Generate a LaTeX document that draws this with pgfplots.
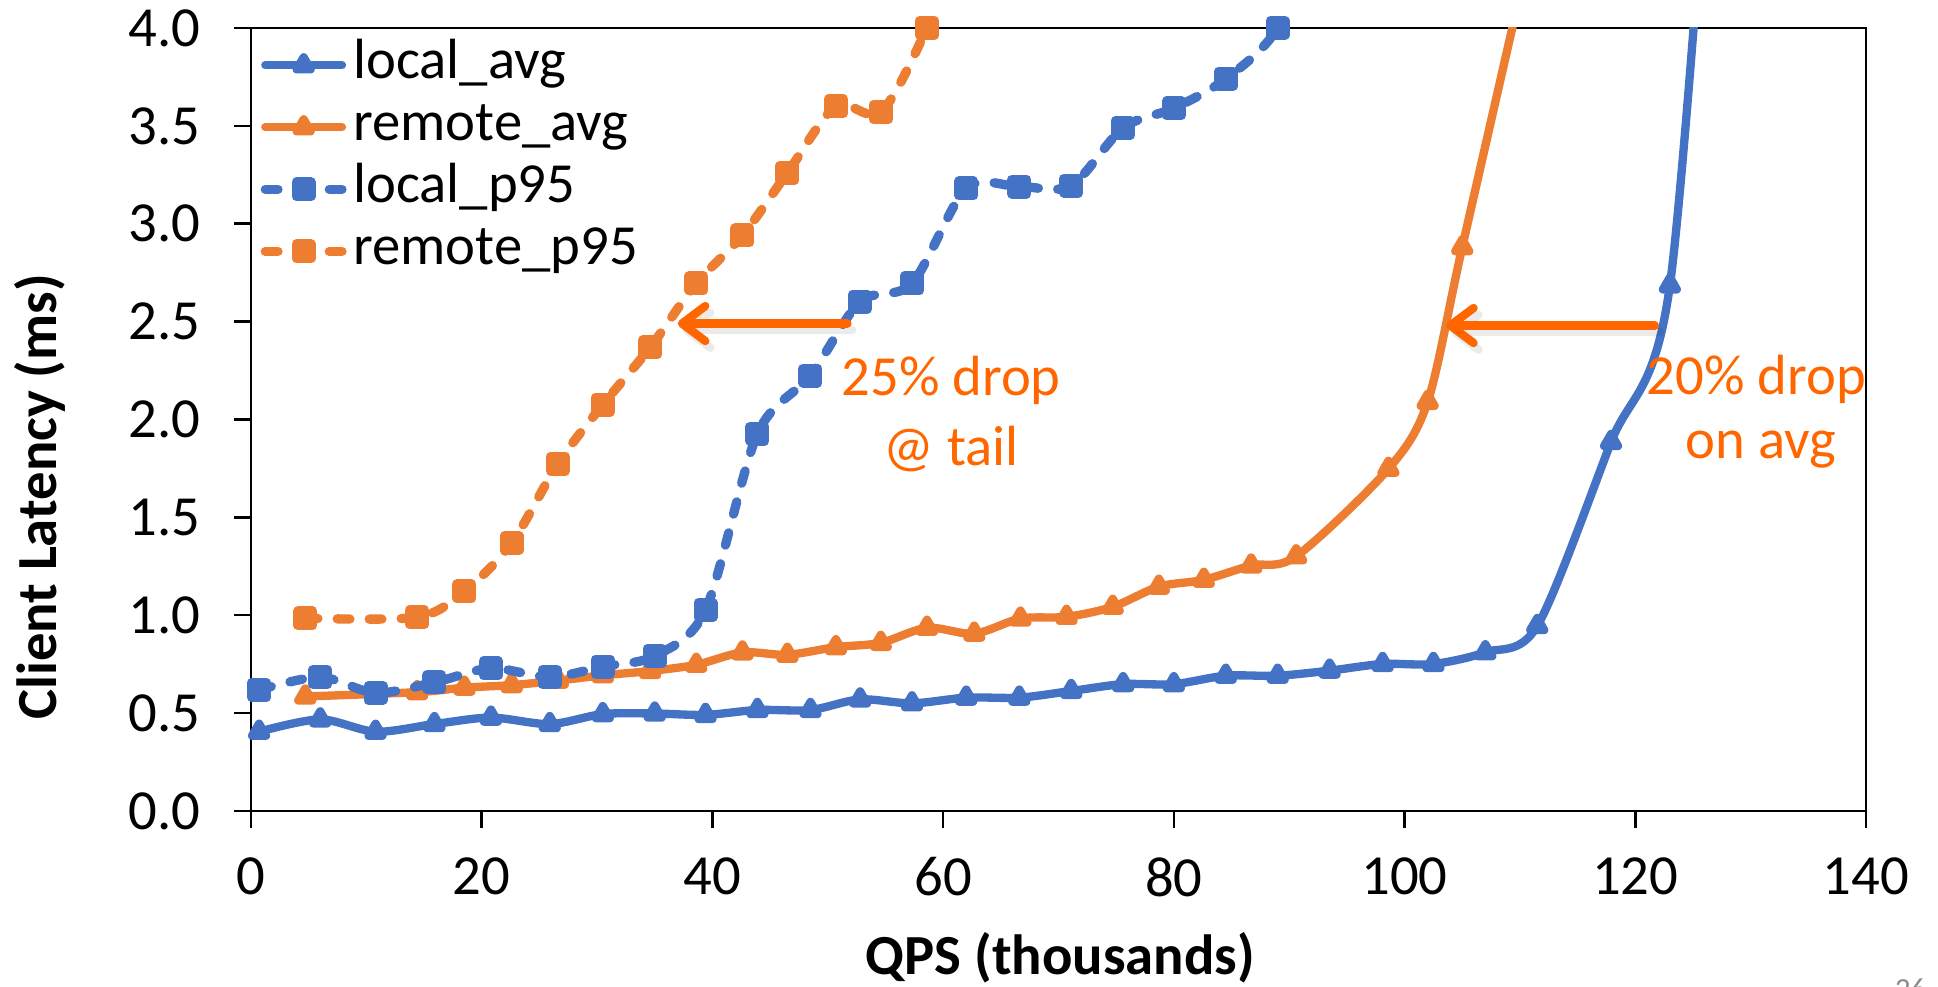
\documentclass[border=0pt]{standalone}
\usepackage{fontspec}
\setmainfont{Carlito}
\usepackage{pgfplots}
\pgfplotsset{compat=1.18}
\usetikzlibrary{arrows.meta}

\definecolor{serblue}{HTML}{4472C4}
\definecolor{serorange}{HTML}{ED7D31}
\definecolor{callout}{HTML}{FF6600}

\newcommand{\chartfont}{\fontsize{17}{20}\selectfont}

% QPS (thousands) vs. client latency (ms)
\pgfplotstableread{
x y
0.7 0.405
6.0 0.468
10.8 0.405
15.9 0.444
20.8 0.477
25.9 0.444
30.5 0.495
35.0 0.498
39.4 0.491
43.9 0.516
48.5 0.516
52.8 0.570
57.3 0.550
62.0 0.579
66.6 0.579
71.1 0.613
75.6 0.648
80.0 0.648
84.5 0.691
89.0 0.691
93.5 0.717
98.1 0.751
102.5 0.751
107.0 0.811
111.5 0.945
117.9 1.885
123.0 2.685
127.5 5.950
}\localavg

\pgfplotstableread{
x y
4.7 0.585
14.4 0.607
18.5 0.630
22.6 0.643
26.6 0.666
30.5 0.693
34.6 0.715
38.6 0.747
42.6 0.810
46.5 0.798
50.7 0.837
54.6 0.859
58.6 0.936
62.7 0.906
66.7 0.983
70.7 0.992
74.7 1.043
78.7 1.146
82.6 1.181
86.7 1.254
90.6 1.301
98.6 1.748
102.0 2.090
105.0 2.880
110.5 4.300
}\remoteavg

\pgfplotstableread{
x y
0.7 0.618
6.0 0.684
10.8 0.603
15.9 0.657
20.8 0.729
25.9 0.684
30.5 0.738
35.0 0.792
39.4 1.026
43.9 1.927
48.5 2.224
52.8 2.602
57.3 2.695
62.0 3.180
66.6 3.190
71.1 3.195
75.6 3.490
80.0 3.590
84.5 3.740
89.0 4.000
93.5 4.600
}\localpninetyfive

\pgfplotstableread{
x y
4.7 0.985
14.4 0.990
18.5 1.122
22.6 1.369
26.6 1.774
30.5 2.076
34.6 2.368
38.6 2.695
42.6 2.940
46.5 3.260
50.7 3.600
54.6 3.570
58.6 4.000
62.7 4.600
}\remotepninetyfive

\tikzset{
  callout arrow/.style={line width=2.5pt, line cap=round, -{Straight Barb[length=7pt,width=10.5pt,round]}},
  p95 line/.style={line width=2.8pt, dash pattern=on 3.8pt off 5.8pt, mark=square*, mark size=2.2pt, mark options={solid}},
  avg line/.style={line width=2.5pt, mark=triangle*, mark size=2.4pt, mark options={solid}},
}

\begin{document}
\begin{tikzpicture}
\begin{axis}[
  at={(0pt,0pt)}, anchor=south west,
  scale only axis, width=484.5pt, height=234.9pt,
  xmin=0, xmax=140, ymin=0, ymax=4,
  xtick={0,20,40,60,80,100,120,140},
  ytick={0,0.5,1,1.5,2,2.5,3,3.5,4},
  tick align=outside, tick pos=left,
  major tick length=5pt,
  axis line style={line width=0.75pt, black},
  every tick/.style={line width=0.75pt, black},
  /pgf/number format/assume math mode=true,
  ticklabel style={font=\chartfont, inner sep=0pt},
  xticklabel style={yshift=-8.7pt},
  yticklabel style={xshift=-9.9pt, /pgf/number format/.cd, fixed, fixed zerofill, precision=1},
  clip mode=individual,
  xlabel={\bfseries QPS (thousands)},
  ylabel={\bfseries Client Latency (ms)},
  label style={font=\chartfont},
  xlabel style={at={(axis description cs:0.501,-0.1877)}, anchor=center},
  ylabel style={at={(axis description cs:-0.1307,0.401)}, anchor=center},
  legend style={
    at={(axis description cs:0,1)}, anchor=north west,
    xshift=2.7pt, yshift=-3pt,
    draw=none, fill=none, inner sep=0pt,
    font=\chartfont,
    row sep=2.6pt, column sep=2pt,
    nodes={inner sep=0pt, text height=12pt, text depth=4pt},
  },
  legend cell align=left,
  legend image code/.code={%
    \draw[mark repeat=2, mark phase=2] plot coordinates {(0pt,0pt) (11.5pt,0pt) (23pt,0pt)};},
  every axis plot/.append style={line join=round, line cap=round, smooth, tension=0.5},
]
\addplot[serblue, avg line] table {\localavg};
\addlegendentry{local\_avg}
\addplot[serorange, avg line] table {\remoteavg};
\addlegendentry{remote\_avg}
\addplot[serblue, p95 line] table {\localpninetyfive};
\addlegendentry{local\_p95}
\addplot[serorange, p95 line] table {\remotepninetyfive};
\addlegendentry{remote\_p95}

% call-out arrows with a faint drop shadow
\draw[black, opacity=0.08, callout arrow, transform canvas={shift={(1.5pt,-2pt)}}]
  (axis cs:51.7,2.49) -- (axis cs:37.0,2.49);
\draw[callout, callout arrow] (axis cs:51.7,2.49) -- (axis cs:37.0,2.49);
\draw[black, opacity=0.08, callout arrow, transform canvas={shift={(1.5pt,-2pt)}}]
  (axis cs:121.7,2.48) -- (axis cs:103.6,2.48);
\draw[callout, callout arrow] (axis cs:121.7,2.48) -- (axis cs:103.6,2.48);

\node[callout, font=\chartfont, anchor=base, inner sep=0pt] at (axis cs:60.7,2.12) {25\% drop};
\node[callout, font=\chartfont, anchor=base, inner sep=0pt] at (axis cs:60.7,1.765) {@ tail};
\node[callout, font=\chartfont, anchor=base, inner sep=0pt] at (axis cs:130.5,2.13) {20\% drop};
\node[callout, font=\chartfont, anchor=base, inner sep=0pt] at (axis cs:130.9,1.80) {on avg};
\end{axis}

% slide number in the lower right corner
\node[anchor=north west, inner sep=0pt, text=black!45, font=\fontsize{9.2}{11}\selectfont] at (493pt,-50.1pt) {26};

\pgfresetboundingbox
\path[use as bounding box] (-75.3pt,-52.8pt) rectangle (506.1pt,243.3pt);
\end{tikzpicture}
\end{document}
